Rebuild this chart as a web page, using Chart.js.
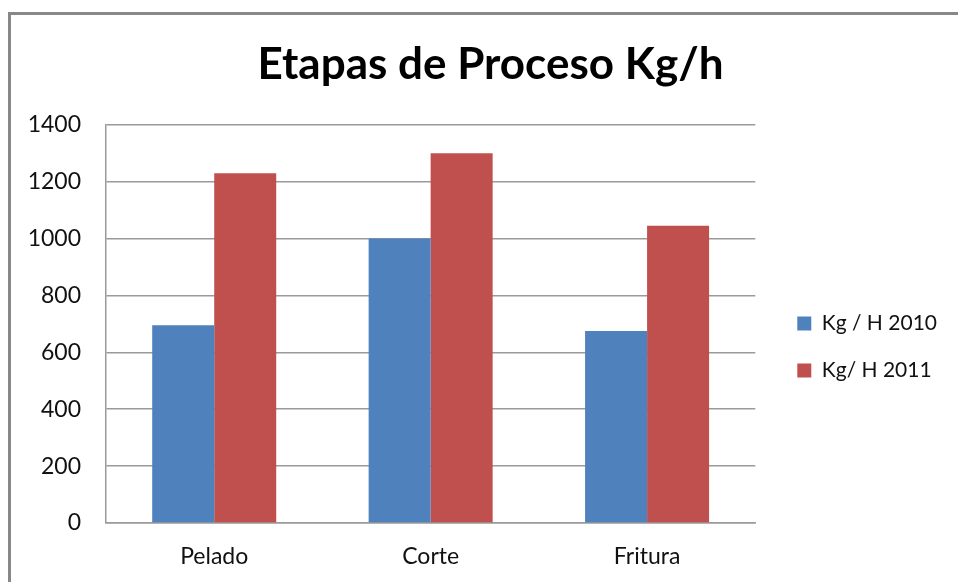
<!DOCTYPE html>
<html>
<head>
<meta charset="utf-8">
<script src="https://cdn.jsdelivr.net/npm/chart.js@4.4.1/dist/chart.umd.min.js"></script>
<style>
  html, body { margin: 0; padding: 0; background: #fff; overflow: hidden; }
  #wrap { position: relative; width: 958px; height: 582px; }
  #frame { position: absolute; left: 8px; top: 12px; width: 1000px; height: 700px;
           border-left: 3px solid #888; border-top: 3px solid #888; }
  #chart { position: absolute; left: 0; top: 0; }
</style>
</head>
<body>
<div id="wrap">
  <div id="frame"></div>
  <canvas id="chart" width="958" height="582"></canvas>
</div>
<script>
const categories = ["Pelado", "Corte", "Fritura"];
const kg2010 = [695, 1000, 675];
const kg2011 = [1230, 1300, 1045];
const seriesNames = ["Kg / H 2010", "Kg/ H 2011"];
const yTicks = [0, 200, 400, 600, 800, 1000, 1200, 1400];

const FONT = "Lato, 'Open Sans', sans-serif";
const gridColor = "#9a9a9a";

// nudge title and legend to where the original puts them
const blockShift = {
  id: "blockShift",
  afterLayout(chart) {
    const t = chart.titleBlock;
    if (t) {
      t.left += 20;
      t.right += 20;
    }
    const lg = chart.legend;
    if (lg) {
      lg.left += 16;
      lg.right += 16;
      lg.top += 60;
      lg.bottom += 60;
    }
  },
};

new Chart(document.getElementById("chart"), {
  type: "bar",
  data: {
    labels: categories,
    datasets: [
      { label: seriesNames[0], data: kg2010, backgroundColor: "#4f81bd" },
      { label: seriesNames[1], data: kg2011, backgroundColor: "#c0504d" },
    ],
  },
  options: {
    responsive: false,
    animation: false,
    layout: { padding: { left: 10, right: 27, top: 0, bottom: 8 } },
    datasets: { bar: { categoryPercentage: 0.573, barPercentage: 1.0 } },
    scales: {
      y: {
        min: 0,
        max: 1400,
        afterBuildTicks: (axis) => { axis.ticks = yTicks.map((v) => ({ value: v })); },
        afterFit: (axis) => { axis.width = 96; },
        ticks: { color: "#111", font: { family: FONT, size: 23 }, padding: 25, callback: (v) => String(v) },
        grid: { color: gridColor, lineWidth: 1.5, drawTicks: false },
        border: { color: gridColor, width: 1.5 },
      },
      x: {
        afterFit: (axis) => { axis.height = 51; },
        ticks: { color: "#111", font: { family: FONT, size: 23 }, padding: 20 },
        grid: { display: false, drawTicks: false },
        border: { color: gridColor, width: 1.5 },
      },
    },
    plugins: {
      title: {
        display: true,
        text: "Etapas de Proceso Kg/h",
        color: "#000",
        font: { family: FONT, size: 44, weight: "bold" },
        padding: { top: 38, bottom: 34 },
      },
      legend: {
        position: "right",
        labels: {
          color: "#111",
          font: { family: FONT, size: 21 },
          boxWidth: 14,
          boxHeight: 14,
          padding: 26,
        },
      },
      tooltip: { enabled: false },
    },
  },
  plugins: [blockShift],
});
</script>
</body>
</html>
